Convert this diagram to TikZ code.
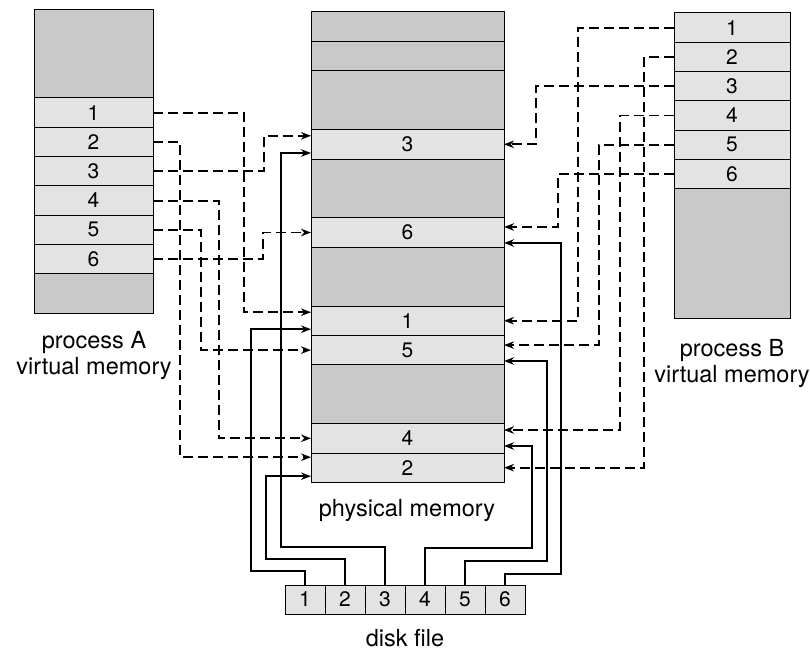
\documentclass[tikz,border=0pt]{standalone}
\usepackage{fontspec}
\setmainfont{TeX Gyre Heros}
\usetikzlibrary{positioning, arrows.meta}

\begin{document}
\begin{tikzpicture}[x=1pt, y=-1pt, >={Stealth[open, length=10pt, width=7.5pt]},
    box/.style={draw, line width=1pt, inner sep=0pt, outer sep=0pt, font=\fontsize{21}{21}\selectfont},
    page/.style={box, fill=black!11},
    blank/.style={box, fill=black!21},
    lbl/.style={align=center, font=\fontsize{23.5}{26}\selectfont},
    dlink/.style={->, line width=1.9pt, dash pattern=on 10pt off 5pt},
    slink/.style={->, line width=1.9pt}]
    \useasboundingbox (0,0) rectangle (810,650);

    % process A
    \node[blank, minimum width=119, minimum height=88, anchor=north west] (atop) at (34,10) {};
    \node[page, minimum width=119, minimum height=29.3] (a1) [below=0pt of atop] {1};
    \node[page, minimum width=119, minimum height=29.3] (a2) [below=0pt of a1] {2};
    \node[page, minimum width=119, minimum height=29.3] (a3) [below=0pt of a2] {3};
    \node[page, minimum width=119, minimum height=29.3] (a4) [below=0pt of a3] {4};
    \node[page, minimum width=119, minimum height=29.3] (a5) [below=0pt of a4] {5};
    \node[page, minimum width=119, minimum height=29.3] (a6) [below=0pt of a5] {6};
    \node[blank, minimum width=119, minimum height=39.2] (abot) [below=0pt of a6] {};
    \node[lbl] (labA) at (94,355) {process A\\virtual memory};

    % physical memory
    \node[blank, minimum width=193, minimum height=29.4, anchor=north west] (m0) at (311,12) {};
    \node[blank, minimum width=193, minimum height=29.4] (m1) [below=0pt of m0] {};
    \node[blank, minimum width=193, minimum height=58.8] (m2) [below=0pt of m1] {};
    \node[page, minimum width=193, minimum height=29.4] (p3) [below=0pt of m2] {3};
    \node[blank, minimum width=193, minimum height=58.8] (m3) [below=0pt of p3] {};
    \node[page, minimum width=193, minimum height=29.4] (p6) [below=0pt of m3] {6};
    \node[blank, minimum width=193, minimum height=58.8] (m4) [below=0pt of p6] {};
    \node[page, minimum width=193, minimum height=29.4] (p1) [below=0pt of m4] {1};
    \node[page, minimum width=193, minimum height=29.4] (p5) [below=0pt of p1] {5};
    \node[blank, minimum width=193, minimum height=58.8] (m5) [below=0pt of p5] {};
    \node[page, minimum width=193, minimum height=29.4] (p4) [below=0pt of m5] {4};
    \node[page, minimum width=193, minimum height=29.4] (p2) [below=0pt of p4] {2};
    \node[lbl] (labM) at (407,510) {physical memory};

    % process B
    \node[page, minimum width=116, minimum height=29.3, anchor=north west] (b1) at (674,13) {1};
    \node[page, minimum width=116, minimum height=29.3] (b2) [below=0pt of b1] {2};
    \node[page, minimum width=116, minimum height=29.3] (b3) [below=0pt of b2] {3};
    \node[page, minimum width=116, minimum height=29.3] (b4) [below=0pt of b3] {4};
    \node[page, minimum width=116, minimum height=29.3] (b5) [below=0pt of b4] {5};
    \node[page, minimum width=116, minimum height=29.3] (b6) [below=0pt of b5] {6};
    \node[blank, minimum width=116, minimum height=129.2] (bbot) [below=0pt of b6] {};
    \node[lbl] (labB) at (732,363) {process B\\virtual memory};

    % disk file
    \node[page, minimum width=40, minimum height=29, anchor=north west] (d1) at (285,585) {1};
    \node[page, minimum width=40, minimum height=29] (d2) [right=0pt of d1] {2};
    \node[page, minimum width=40, minimum height=29] (d3) [right=0pt of d2] {3};
    \node[page, minimum width=40, minimum height=29] (d4) [right=0pt of d3] {4};
    \node[page, minimum width=40, minimum height=29] (d5) [right=0pt of d4] {5};
    \node[page, minimum width=40, minimum height=29] (d6) [right=0pt of d5] {6};
    \node[lbl] (labD) at (405,638) {disk file};

    % process A mappings
    \draw[dlink] (a1.east) -- ++(91,0) |- ([yshift=8.5]p1.west);
    \draw[dlink] (a2.east) -- ++(27,0) |- ([yshift=10.5]p2.west);
    \draw[dlink] (a3.east) -- ++(111,0) |- ([yshift=8.5]p3.west);
    \draw[dlink] (a4.east) -- ++(66,0) |- (p4.west);
    \draw[dlink] (a5.east) -- ++(48,0) |- (p5.west);
    \draw[dlink] (a6.east) -- ++(110,0) |- (p6.west);

    % process B mappings
    \draw[dlink] (b1.west) -- ++(-96,0) |- (p1.east);
    \draw[dlink] (b2.west) -- ++(-30,0) |- (p2.east);
    \draw[dlink] (b3.west) -- ++(-138,0) |- (p3.east);
    \draw[dlink] (b4.west) -- ++(-54,0) |- ([yshift=8.3]p4.east);
    \draw[dlink] (b5.west) -- ++(-75,0) |- ([yshift=5]p5.east);
    \draw[dlink] (b6.west) -- ++(-116,0) |- ([yshift=5.5]p6.east);

    % disk blocks
    \draw[slink] (d1.north) -- ++(0,-14) -- ++(-54,0) |- ([yshift=-8.5]p1.west);
    \draw[slink] (d2.north) -- ++(0,-26) -- ++(-79,0) |- ([yshift=-8.5]p2.west);
    \draw[slink] (d3.north) -- ++(0,-38) -- ++(-104,0) |- ([yshift=-8.7]p3.west);
    \draw[slink] (d4.north) -- ++(0,-37) -- ++(107,0) |- ([yshift=-7.7]p4.east);
    \draw[slink] (d5.north) -- ++(0,-24) -- ++(82,0) |- ([yshift=-10.9]p5.east);
    \draw[slink] (d6.north) -- ++(0,-11) -- ++(56,0) |- ([yshift=-10.5]p6.east);
\end{tikzpicture}
\end{document}
